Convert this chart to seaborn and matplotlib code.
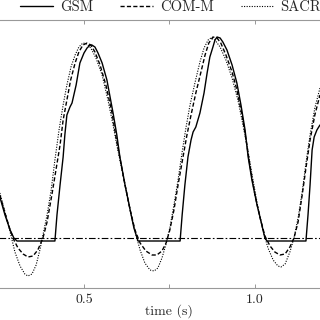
import matplotlib
matplotlib.use("Agg")
import matplotlib.pyplot as plt
import seaborn as sns
import pandas as pd

# values (time in s, signal in arbitrary units)
gsm_t = [0.254, 0.269, 0.284, 0.295, 0.304, 0.415, 0.421, 0.430, 0.439, 0.444, 0.450, 0.459,
         0.465, 0.477, 0.488, 0.500, 0.509, 0.518, 0.523, 0.532, 0.541, 0.553, 0.567, 0.585,
         0.596, 0.605, 0.620, 0.635, 0.646, 0.658, 0.781, 0.787, 0.795, 0.804, 0.813, 0.819,
         0.827, 0.839, 0.851, 0.860, 0.868, 0.877, 0.883, 0.889, 0.898, 0.906, 0.918, 0.933,
         0.947, 0.959, 0.971, 0.980, 0.991, 1.006, 1.018, 1.029, 1.035, 1.149, 1.155, 1.161,
         1.167, 1.173, 1.181, 1.190]
gsm_y = [20.5, 11.5, 4.0, 0.0, -1.5, -1.5, 11.5, 26.5, 40.5, 51.5, 61.5, 65.5,
         67.5, 76.5, 87.5, 92.5, 95.0, 96.5, 96.5, 95.5, 92.5, 87.5, 79.0, 62.5,
         51.5, 40.5, 26.5, 14.0, 5.0, -1.5, -1.5, 11.5, 26.5, 40.5, 49.0, 53.0,
         55.5, 62.5, 72.5, 82.5, 90.5, 95.5, 99.0, 100.5, 100.0, 98.0, 94.0, 86.5,
         77.5, 66.5, 54.0, 40.5, 29.0, 16.5, 8.0, 0.0, -1.5, -1.5, 11.5, 26.5,
         44.0, 50.5, 54.0, 56.5]

com_t = [0.254, 0.269, 0.284, 0.295, 0.307, 0.322, 0.336, 0.351, 0.365, 0.380, 0.392, 0.406,
         0.418, 0.430, 0.439, 0.450, 0.461, 0.474, 0.485, 0.497, 0.509, 0.520, 0.532, 0.547,
         0.564, 0.582, 0.594, 0.605, 0.620, 0.635, 0.649, 0.664, 0.681, 0.699, 0.713, 0.728,
         0.740, 0.751, 0.763, 0.775, 0.789, 0.801, 0.813, 0.827, 0.842, 0.854, 0.865, 0.877,
         0.889, 0.900, 0.915, 0.933, 0.947, 0.962, 0.974, 0.985, 1.000, 1.015, 1.029, 1.044,
         1.058, 1.073, 1.088, 1.102, 1.114, 1.126, 1.138, 1.149, 1.161, 1.175, 1.190]
com_y = [21.5, 12.5, 4.0, -1.0, -5.0, -8.0, -9.5, -9.0, -6.0, 0.0, 8.0, 21.5,
         34.0, 46.5, 59.0, 69.0, 79.0, 87.5, 93.0, 96.5, 97.5, 96.5, 93.0, 86.5,
         76.5, 62.5, 50.0, 40.0, 26.5, 14.0, 4.0, -2.5, -6.5, -8.5, -8.5, -6.5,
         -2.5, 4.0, 14.0, 26.5, 40.0, 51.5, 61.5, 72.5, 83.0, 91.5, 97.5, 100.5,
         100.0, 97.5, 91.5, 83.0, 74.0, 61.5, 49.0, 36.5, 21.5, 10.0, 1.0, -4.0,
         -7.0, -8.5, -8.0, -4.5, 0.0, 8.0, 21.5, 35.0, 49.0, 61.5, 71.5]

sacr_t = [0.254, 0.269, 0.284, 0.298, 0.313, 0.327, 0.336, 0.348, 0.360, 0.371, 0.380, 0.392,
          0.404, 0.415, 0.427, 0.439, 0.450, 0.462, 0.474, 0.485, 0.497, 0.509, 0.520, 0.535,
          0.553, 0.570, 0.585, 0.596, 0.611, 0.626, 0.640, 0.652, 0.664, 0.678, 0.693, 0.705,
          0.716, 0.728, 0.740, 0.751, 0.763, 0.775, 0.787, 0.798, 0.810, 0.825, 0.839, 0.851,
          0.863, 0.871, 0.883, 0.898, 0.915, 0.933, 0.950, 0.965, 0.980, 0.994, 1.009, 1.023,
          1.038, 1.053, 1.067, 1.076, 1.088, 1.102, 1.114, 1.126, 1.138, 1.149, 1.161, 1.175,
          1.190]
sacr_y = [22.5, 13.0, 3.0, -7.0, -14.0, -18.0, -19.0, -18.0, -13.5, -6.0, 1.5, 11.5,
          24.0, 39.0, 54.0, 66.5, 76.5, 85.5, 91.5, 95.5, 97.5, 97.0, 95.0, 90.0,
          81.5, 69.0, 56.5, 46.5, 34.0, 21.5, 10.0, 1.5, -6.0, -12.5, -16.0, -16.5,
          -15.0, -10.0, -3.0, 5.0, 16.5, 29.0, 43.0, 55.0, 66.5, 78.0, 88.0, 95.0,
          99.0, 100.0, 99.0, 95.5, 89.0, 80.0, 69.0, 56.5, 43.0, 29.0, 15.0, 4.0,
          -5.0, -11.0, -14.0, -14.5, -13.0, -7.0, 0.0, 10.0, 23.0, 37.5, 51.5, 65.0,
          75.0]

baseline = 0.0
xtick_vals = [0.25, 0.5, 0.75, 1.0]
xtick_labels = ["", "0.5", "", "1.0"]

sns.set_style("ticks")
plt.rcParams["font.family"] = ["cmr10", "DejaVu Serif"]
plt.rcParams["axes.formatter.use_mathtext"] = True
plt.rcParams["mathtext.fontset"] = "cm"

fig = plt.figure(figsize=(3.2, 3.2), dpi=100)
ax = fig.add_axes([-0.0154, 0.1, 1.026, 0.8375])

df_gsm = pd.DataFrame({"t": gsm_t, "y": gsm_y})
df_com = pd.DataFrame({"t": com_t, "y": com_y})
df_sacr = pd.DataFrame({"t": sacr_t, "y": sacr_y})

ax.axhline(baseline, color="black", lw=0.8, ls=(0, (6, 2, 1.5, 2)), zorder=1)
sns.lineplot(data=df_gsm, x="t", y="y", ax=ax, sort=False, estimator=None,
             color="black", lw=1.0, label="GSM")
sns.lineplot(data=df_com, x="t", y="y", ax=ax, sort=False, estimator=None,
             color="black", lw=1.0, ls=(0, (3, 1.6)), label="COM-M")
sns.lineplot(data=df_sacr, x="t", y="y", ax=ax, sort=False, estimator=None,
             color="black", lw=0.8, ls=(0, (1, 1.3)), label="SACR-M")

ax.set_xlim(0.24, 1.20)
ax.set_ylim(-25, 109)
ax.set_xticks(xtick_vals)
ax.set_xticklabels(xtick_labels, fontsize=10)
ax.set_yticks([])
ax.tick_params(axis="x", direction="in", length=3, width=0.6, color="#888888",
               top=True, pad=4)
for s in ax.spines.values():
    s.set_color("#999999")
    s.set_linewidth(0.8)
ax.set_ylabel("")
ax.set_xlabel("time (s)", fontsize=10)
ax.xaxis.set_label_coords(0.53, -0.062)

handles, labels = ax.get_legend_handles_labels()
ax.legend_.remove()
fig.legend(handles, labels, loc="center left", bbox_to_anchor=(0.062, 0.978), ncol=3,
           frameon=False, fontsize=10.5, handlelength=2.26, handletextpad=0.48,
           columnspacing=1.85, borderaxespad=0, borderpad=0)

fig.savefig("out.png", dpi=100)
